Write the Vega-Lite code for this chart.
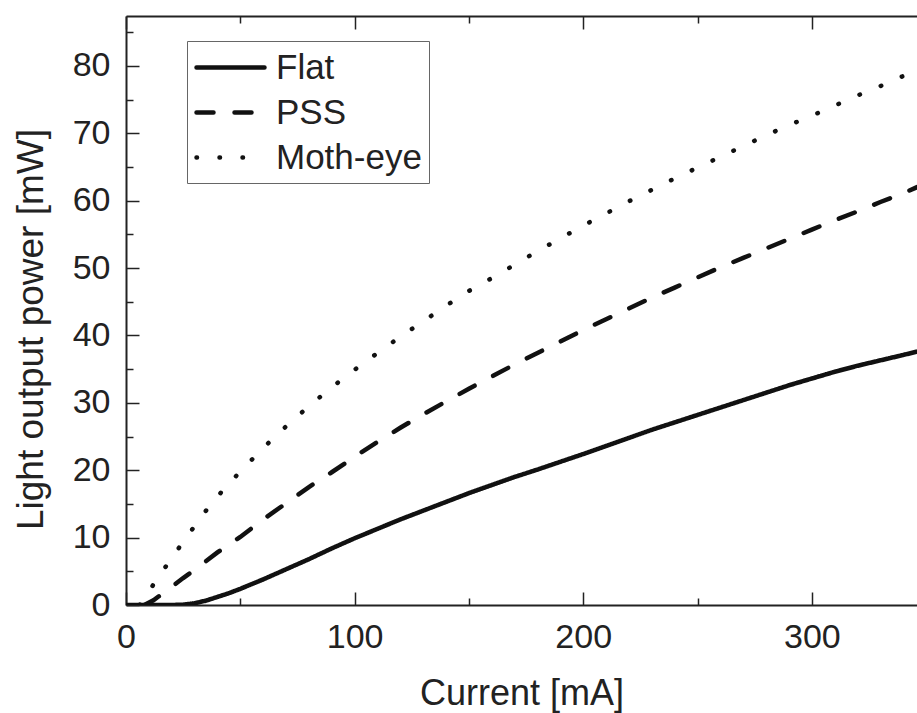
{
  "$schema": "https://vega.github.io/schema/vega-lite/v6.json",
  "autosize": {"type": "none"},
  "width": 791,
  "height": 589,
  "padding": {"left": 126, "top": 16, "right": 0, "bottom": 108},
  "background": "white",
  "config": {
    "font": "Liberation Sans",
    "view": {"stroke": null},
    "axis": {"grid": false, "domainColor": "#222", "domainWidth": 2, "tickColor": "#222", "tickWidth": 1.5, "labelColor": "#222", "titleColor": "#222", "labelFont": "Liberation Sans", "titleFont": "Liberation Sans", "titleFontWeight": "normal"}
  },
  "data": {"values": [
    {"c": 0, "p": 0, "s": "Flat"}, {"c": 10, "p": 0, "s": "Flat"}, {"c": 20, "p": 0, "s": "Flat"}, {"c": 25, "p": 0.05, "s": "Flat"}, {"c": 30, "p": 0.25, "s": "Flat"}, {"c": 35, "p": 0.65, "s": "Flat"}, {"c": 40, "p": 1.2, "s": "Flat"}, {"c": 45, "p": 1.75, "s": "Flat"}, {"c": 50, "p": 2.4, "s": "Flat"}, {"c": 55, "p": 3.1, "s": "Flat"}, {"c": 60, "p": 3.8, "s": "Flat"}, {"c": 70, "p": 5.3, "s": "Flat"}, {"c": 80, "p": 6.8, "s": "Flat"}, {"c": 90, "p": 8.4, "s": "Flat"}, {"c": 100, "p": 9.9, "s": "Flat"}, {"c": 110, "p": 11.3, "s": "Flat"}, {"c": 120, "p": 12.7, "s": "Flat"}, {"c": 130, "p": 14.0, "s": "Flat"}, {"c": 140, "p": 15.3, "s": "Flat"}, {"c": 150, "p": 16.6, "s": "Flat"}, {"c": 160, "p": 17.8, "s": "Flat"}, {"c": 170, "p": 19.0, "s": "Flat"}, {"c": 180, "p": 20.1, "s": "Flat"}, {"c": 190, "p": 21.25, "s": "Flat"}, {"c": 200, "p": 22.4, "s": "Flat"}, {"c": 210, "p": 23.6, "s": "Flat"}, {"c": 220, "p": 24.8, "s": "Flat"}, {"c": 230, "p": 26.0, "s": "Flat"}, {"c": 240, "p": 27.1, "s": "Flat"}, {"c": 250, "p": 28.2, "s": "Flat"}, {"c": 260, "p": 29.3, "s": "Flat"}, {"c": 270, "p": 30.4, "s": "Flat"}, {"c": 280, "p": 31.5, "s": "Flat"}, {"c": 290, "p": 32.6, "s": "Flat"}, {"c": 300, "p": 33.6, "s": "Flat"}, {"c": 310, "p": 34.6, "s": "Flat"}, {"c": 320, "p": 35.5, "s": "Flat"}, {"c": 330, "p": 36.3, "s": "Flat"}, {"c": 340, "p": 37.1, "s": "Flat"}, {"c": 346, "p": 37.6, "s": "Flat"},
    {"c": 8, "p": 0, "s": "PSS"}, {"c": 12, "p": 0.7, "s": "PSS"}, {"c": 16, "p": 1.7, "s": "PSS"}, {"c": 20, "p": 2.7, "s": "PSS"}, {"c": 25, "p": 4.0, "s": "PSS"}, {"c": 30, "p": 5.2, "s": "PSS"}, {"c": 35, "p": 6.5, "s": "PSS"}, {"c": 40, "p": 7.8, "s": "PSS"}, {"c": 45, "p": 9.0, "s": "PSS"}, {"c": 50, "p": 10.1, "s": "PSS"}, {"c": 60, "p": 12.7, "s": "PSS"}, {"c": 70, "p": 15.1, "s": "PSS"}, {"c": 80, "p": 17.5, "s": "PSS"}, {"c": 90, "p": 19.7, "s": "PSS"}, {"c": 100, "p": 22.0, "s": "PSS"}, {"c": 110, "p": 24.2, "s": "PSS"}, {"c": 120, "p": 26.3, "s": "PSS"}, {"c": 130, "p": 28.3, "s": "PSS"}, {"c": 140, "p": 30.2, "s": "PSS"}, {"c": 150, "p": 32.1, "s": "PSS"}, {"c": 160, "p": 33.9, "s": "PSS"}, {"c": 170, "p": 35.7, "s": "PSS"}, {"c": 180, "p": 37.4, "s": "PSS"}, {"c": 190, "p": 39.1, "s": "PSS"}, {"c": 200, "p": 40.8, "s": "PSS"}, {"c": 210, "p": 42.4, "s": "PSS"}, {"c": 220, "p": 44.0, "s": "PSS"}, {"c": 230, "p": 45.6, "s": "PSS"}, {"c": 240, "p": 47.1, "s": "PSS"}, {"c": 250, "p": 48.6, "s": "PSS"}, {"c": 260, "p": 50.1, "s": "PSS"}, {"c": 270, "p": 51.5, "s": "PSS"}, {"c": 280, "p": 52.9, "s": "PSS"}, {"c": 290, "p": 54.3, "s": "PSS"}, {"c": 300, "p": 55.7, "s": "PSS"}, {"c": 310, "p": 57.1, "s": "PSS"}, {"c": 320, "p": 58.4, "s": "PSS"}, {"c": 330, "p": 59.8, "s": "PSS"}, {"c": 340, "p": 61.1, "s": "PSS"}, {"c": 346, "p": 62.0, "s": "PSS"},
    {"c": 6, "p": 0, "s": "Moth-eye"}, {"c": 10, "p": 2.0, "s": "Moth-eye"}, {"c": 15, "p": 4.6, "s": "Moth-eye"}, {"c": 20, "p": 6.9, "s": "Moth-eye"}, {"c": 25, "p": 9.4, "s": "Moth-eye"}, {"c": 30, "p": 11.7, "s": "Moth-eye"}, {"c": 35, "p": 14.0, "s": "Moth-eye"}, {"c": 40, "p": 16.1, "s": "Moth-eye"}, {"c": 45, "p": 18.0, "s": "Moth-eye"}, {"c": 50, "p": 19.8, "s": "Moth-eye"}, {"c": 60, "p": 23.3, "s": "Moth-eye"}, {"c": 70, "p": 26.5, "s": "Moth-eye"}, {"c": 80, "p": 29.5, "s": "Moth-eye"}, {"c": 90, "p": 32.3, "s": "Moth-eye"}, {"c": 100, "p": 34.9, "s": "Moth-eye"}, {"c": 110, "p": 37.4, "s": "Moth-eye"}, {"c": 120, "p": 39.8, "s": "Moth-eye"}, {"c": 130, "p": 42.1, "s": "Moth-eye"}, {"c": 140, "p": 44.4, "s": "Moth-eye"}, {"c": 150, "p": 46.6, "s": "Moth-eye"}, {"c": 160, "p": 48.5, "s": "Moth-eye"}, {"c": 170, "p": 50.5, "s": "Moth-eye"}, {"c": 180, "p": 52.5, "s": "Moth-eye"}, {"c": 190, "p": 54.4, "s": "Moth-eye"}, {"c": 200, "p": 56.3, "s": "Moth-eye"}, {"c": 210, "p": 58.1, "s": "Moth-eye"}, {"c": 220, "p": 59.9, "s": "Moth-eye"}, {"c": 230, "p": 61.6, "s": "Moth-eye"}, {"c": 240, "p": 63.3, "s": "Moth-eye"}, {"c": 250, "p": 64.9, "s": "Moth-eye"}, {"c": 260, "p": 66.5, "s": "Moth-eye"}, {"c": 270, "p": 68.1, "s": "Moth-eye"}, {"c": 280, "p": 69.7, "s": "Moth-eye"}, {"c": 290, "p": 71.2, "s": "Moth-eye"}, {"c": 300, "p": 72.6, "s": "Moth-eye"}, {"c": 310, "p": 74.1, "s": "Moth-eye"}, {"c": 320, "p": 75.6, "s": "Moth-eye"}, {"c": 330, "p": 77.0, "s": "Moth-eye"}, {"c": 340, "p": 78.5, "s": "Moth-eye"}, {"c": 346, "p": 79.4, "s": "Moth-eye"}
  ]},
  "resolve": {"axis": {"x": "independent", "y": "independent"}},
  "layer": [
    {
      "mark": {"type": "line", "strokeWidth": 4.5, "strokeCap": "round", "color": "#111", "clip": true},
      "encoding": {
        "x": {"field": "c", "type": "quantitative", "scale": {"domain": [0, 346], "nice": false, "zero": false},
          "axis": {"orient": "bottom", "title": "Current [mA]", "values": [0, 100, 200, 300],
            "labelFontSize": 34, "titleFontSize": 36,
            "tickSize": -13, "labelPadding": 28, "titlePadding": 22, "labelFlush": false, "labelOverlap": false}},
        "y": {"field": "p", "type": "quantitative", "scale": {"domain": [0, 87.4], "nice": false, "zero": false},
          "axis": {"orient": "left", "title": "Light output power [mW]", "values": [0, 10, 20, 30, 40, 50, 60, 70, 80],
            "labelFontSize": 34, "titleFontSize": 37, "titleY": 313,
            "tickSize": -13, "labelPadding": 29, "titlePadding": 22, "labelFlush": false, "labelOverlap": false}},
        "strokeDash": {"field": "s", "type": "nominal",
          "scale": {"domain": ["Flat", "PSS", "Moth-eye"], "range": [[1, 0], [17, 21], [0.5, 22.5]]},
          "legend": {"title": null, "orient": "none", "legendX": 61, "legendY": 25, "symbolType": "M-1,0H3", "symbolSize": 1156,
            "symbolStrokeWidth": 4.5, "symbolStrokeColor": "#111", "labelFontSize": 35, "labelColor": "#222", "labelFont": "Liberation Sans",
            "labelOffset": 43, "rowPadding": 7, "padding": 7, "strokeColor": "#666", "fillColor": "white",
            "encode": {"symbols": {"update": {"strokeCap": {"value": "round"}}}}}}
      }
    },
    {
      "mark": {"type": "line", "opacity": 0},
      "encoding": {
        "x": {"field": "c", "type": "quantitative",
          "axis": {"orient": "bottom", "title": null, "labels": false, "domain": false, "values": [50, 150, 250], "tickSize": -7}},
        "y": {"field": "p", "type": "quantitative",
          "axis": {"orient": "left", "title": null, "labels": false, "domain": false, "values": [5, 15, 25, 35, 45, 55, 65, 75, 85], "tickSize": -7}}
      }
    },
    {
      "mark": {"type": "line", "opacity": 0},
      "encoding": {
        "x": {"field": "c", "type": "quantitative",
          "axis": {"orient": "top", "title": null, "labels": false, "values": [0, 100, 200, 300], "tickSize": -13}},
        "y": {"field": "p", "type": "quantitative", "axis": null}
      }
    },
    {
      "mark": {"type": "line", "opacity": 0},
      "encoding": {
        "x": {"field": "c", "type": "quantitative",
          "axis": {"orient": "top", "title": null, "labels": false, "domain": false, "values": [50, 150, 250], "tickSize": -7}},
        "y": {"field": "p", "type": "quantitative", "axis": null}
      }
    }
  ]
}
